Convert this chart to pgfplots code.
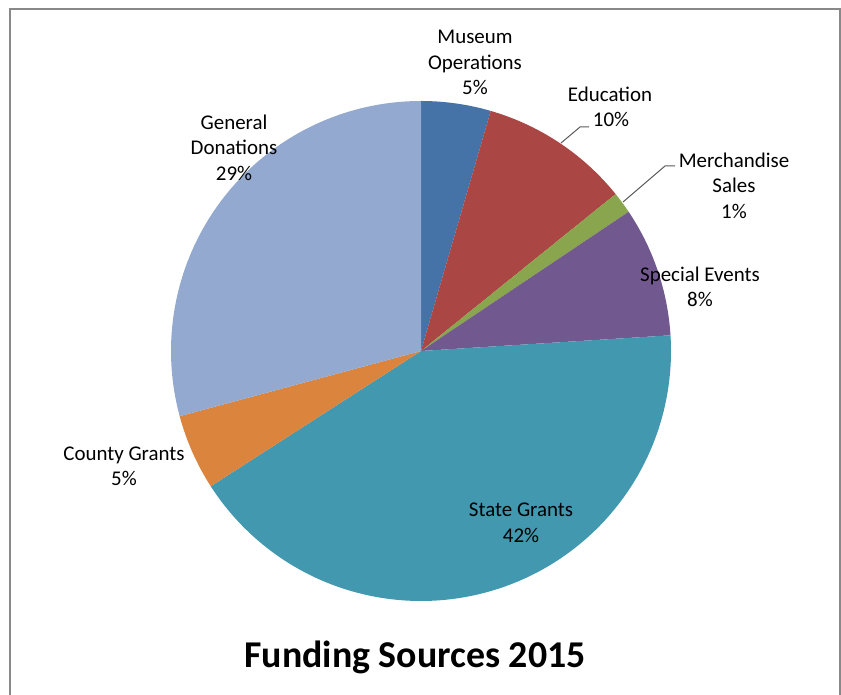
\documentclass[border=0pt]{standalone}
\usepackage{pgfplots}
\pgfplotsset{compat=1.18}
\usepackage{pgfplotstable}
\usepackage{fontspec}
\setmainfont{Carlito}
\definecolor{slice0}{HTML}{4572A7}
\definecolor{slice1}{HTML}{AA4643}
\definecolor{slice2}{HTML}{89A54E}
\definecolor{slice3}{HTML}{71588F}
\definecolor{slice4}{HTML}{4198AF}
\definecolor{slice5}{HTML}{DB843D}
\definecolor{slice6}{HTML}{93A9CF}
\definecolor{framegray}{HTML}{898989}
\definecolor{leader}{HTML}{595959}
\pgfplotstableread{
name value
Museum 4.5
Education 9.7
Merchandise 1.4
Special 8.4
State 41.9
County 4.9
General 29.2
}\piedata
\newcommand{\lblfont}{\fontsize{21}{25}\selectfont}
\newcommand{\lbl}[3]{\node[anchor=base, font=\lblfont, text=black, inner sep=0pt] at (axis cs:#1,#2) {#3};}
\begin{document}
\begin{tikzpicture}
\begin{axis}[
  scale only axis, width=841bp, height=695bp,
  xmin=0, xmax=841, ymin=0, ymax=695,
  hide axis, clip=false]
\pgfmathsetmacro\cum{0}
\pgfplotsforeachungrouped \i in {0,...,6}{%
  \pgfplotstablegetelem{\i}{value}\of\piedata
  \pgfmathsetmacro\sa{\cum*3.6}%
  \pgfmathsetmacro\sb{\sa+0.5}%
  \pgfmathsetmacro\cum{\cum+\pgfplotsretval}%
  \pgfmathsetmacro\se{\cum*3.6}%
  \edef\doplot{\noexpand\addplot[fill=slice\i, draw=none, samples at={-1000,\sa,\sb,...,\se,\se}]
    ({x < -500 ? 421 : 421+250*sin(x)}, {x < -500 ? 344 : 344+250*cos(x)});}%
  \doplot
}
% frame
\draw[framegray, line width=2bp] (axis cs:10,0) -- (axis cs:10,685.5) -- (axis cs:840,685.5) -- (axis cs:840,0);
% leader lines
\draw[leader, line width=1bp] (axis cs:561,552) -- (axis cs:580,568) -- (axis cs:589,568);
\draw[leader, line width=1bp] (axis cs:623,493) -- (axis cs:665,529) -- (axis cs:675,529);
% labels
\lbl{475}{651}{Museum}
\lbl{475}{625}{Operations}
\lbl{475}{600}{5\%}
\lbl{610}{593}{Education}
\lbl{611}{568}{10\%}
\lbl{734}{527}{Merchandise}
\lbl{734}{502}{Sales}
\lbl{734}{476}{1\%}
\lbl{700}{413}{Special Events}
\lbl{700}{388}{8\%}
\lbl{521}{178}{State Grants}
\lbl{521}{152}{42\%}
\lbl{124}{234}{County Grants}
\lbl{124}{209}{5\%}
\lbl{234}{565}{General}
\lbl{234}{540}{Donations}
\lbl{234}{514}{29\%}
\node[anchor=base, inner sep=0pt, font=\bfseries\fontsize{38}{40}\selectfont] at (axis cs:415,28) {Funding Sources 2015};
\end{axis}
\pgfresetboundingbox
\path (current axis.south west) rectangle (current axis.north east);
\end{tikzpicture}
\end{document}
